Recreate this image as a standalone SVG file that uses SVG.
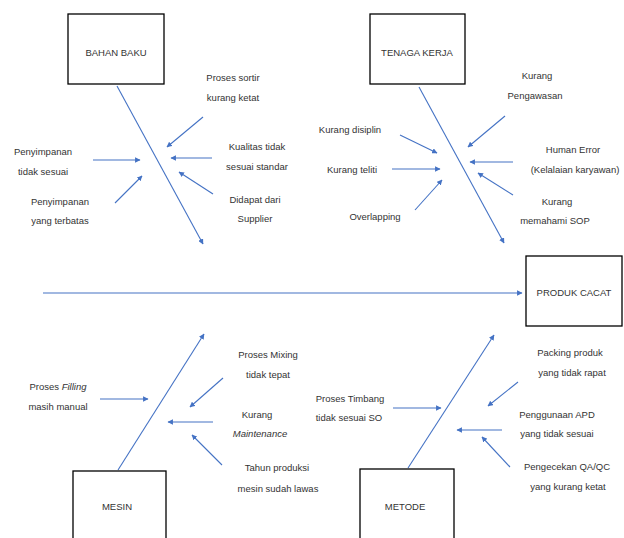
<svg xmlns="http://www.w3.org/2000/svg" width="624" height="538" viewBox="0 0 624 538">
<style>
.box{fill:#fff;stroke:#000;stroke-width:1.3}
.ln{stroke:#4472C4;stroke-width:1.1;fill:none;marker-end:url(#ah)}
text{font-family:"Liberation Sans",Arial,sans-serif;font-size:9.5px;fill:#333;text-anchor:middle}
.it{font-style:italic}
</style>
<defs>
<marker id="ah" viewBox="0 0 10 10" refX="9" refY="5" markerWidth="5" markerHeight="5" orient="auto" markerUnits="strokeWidth">
<path d="M0,0 L10,5 L0,10 z" fill="#4472C4"/>
</marker>
</defs>
<rect width="624" height="538" fill="#fff"/>
<g id="connectors">
<line class="ln" x1="43" y1="293" x2="522" y2="293"/>
<line class="ln" x1="117" y1="86" x2="203" y2="244"/>
<line class="ln" x1="419" y1="87" x2="504" y2="243"/>
<line class="ln" x1="118" y1="470" x2="204" y2="334"/>
<line class="ln" x1="408" y1="468" x2="494" y2="335"/>
<line class="ln" x1="203" y1="117" x2="167" y2="147"/>
<line class="ln" x1="212" y1="158" x2="171" y2="158"/>
<line class="ln" x1="213" y1="194" x2="179" y2="172"/>
<line class="ln" x1="93" y1="160" x2="140" y2="160"/>
<line class="ln" x1="115" y1="203" x2="142" y2="176"/>
<line class="ln" x1="505" y1="116" x2="468" y2="147"/>
<line class="ln" x1="513" y1="162" x2="470" y2="162"/>
<line class="ln" x1="513" y1="195" x2="478" y2="173"/>
<line class="ln" x1="400" y1="135" x2="437" y2="153"/>
<line class="ln" x1="392" y1="169" x2="440" y2="169"/>
<line class="ln" x1="415" y1="210" x2="442" y2="180"/>
<line class="ln" x1="100" y1="399" x2="148" y2="399"/>
<line class="ln" x1="223" y1="378" x2="190" y2="407"/>
<line class="ln" x1="213" y1="422" x2="168" y2="422"/>
<line class="ln" x1="222" y1="465" x2="192" y2="435"/>
<line class="ln" x1="393" y1="408" x2="441" y2="408"/>
<line class="ln" x1="518" y1="382" x2="488" y2="406"/>
<line class="ln" x1="502" y1="430" x2="457" y2="430"/>
<line class="ln" x1="510" y1="467" x2="482" y2="437"/>
</g>
<g id="bahan-baku"><rect class="box" x="68" y="14" width="96" height="70"/><text x="116" y="56">BAHAN BAKU</text></g>
<g id="tenaga-kerja"><rect class="box" x="370" y="14" width="95" height="70"/><text x="417" y="56">TENAGA KERJA</text></g>
<g id="produk-cacat"><rect class="box" x="526" y="256" width="96" height="70"/><text x="574" y="296">PRODUK CACAT</text></g>
<g id="mesin"><rect class="box" x="73" y="471" width="93" height="72"/><text x="117" y="510">MESIN</text></g>
<g id="metode"><rect class="box" x="360" y="469" width="94" height="74"/><text x="405" y="510">METODE</text></g>
<g id="labels">
<text x="233" y="81">Proses sortir</text><text x="233" y="101">kurang ketat</text>
<text x="257" y="150">Kualitas tidak</text><text x="257" y="170">sesuai standar</text>
<text x="255" y="203">Didapat dari</text><text x="255" y="222">Supplier</text>
<text x="43" y="155">Penyimpanan</text><text x="43" y="175">tidak sesuai</text>
<text x="60" y="205">Penyimpanan</text><text x="60" y="224">yang terbatas</text>
<text x="537" y="79">Kurang</text><text x="535" y="99">Pengawasan</text>
<text x="573" y="153">Human Error</text><text x="575" y="173">(Kelalaian karyawan)</text>
<text x="557" y="205">Kurang</text><text x="555" y="224">memahami SOP</text>
<text x="350" y="133">Kurang disiplin</text>
<text x="352" y="173">Kurang teliti</text>
<text x="375" y="220">Overlapping</text>
<text x="58" y="390">Proses <tspan class="it">Filling</tspan></text><text x="58" y="410">masih manual</text>
<text x="268" y="358">Proses Mixing</text><text x="268" y="378">tidak tepat</text>
<text x="257" y="418">Kurang</text><text class="it" x="260" y="437">Maintenance</text>
<text x="277" y="471">Tahun produksi</text><text x="278" y="492">mesin sudah lawas</text>
<text x="350" y="402">Proses Timbang</text><text x="349" y="421">tidak sesuai SO</text>
<text x="570" y="356">Packing produk</text><text x="572" y="376">yang tidak rapat</text>
<text x="557" y="418">Penggunaan APD</text><text x="557" y="437">yang tidak sesuai</text>
<text x="567" y="470">Pengecekan QA/QC</text><text x="568" y="490">yang kurang ketat</text>
</g>
</svg>
